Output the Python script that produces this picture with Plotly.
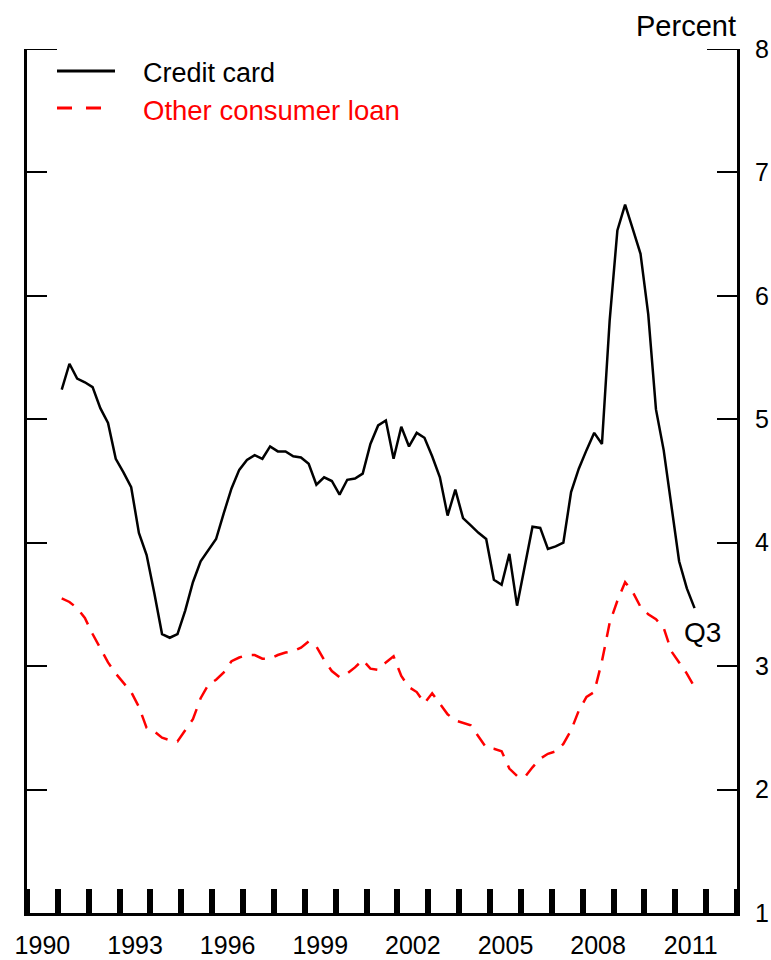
import plotly.graph_objects as go

# Quarterly data, 1991:Q1 - 2011:Q3
years = list(range(1991, 2012))
quarters = [(y, q) for y in years for q in (1, 2, 3, 4)][:83]

credit_card = [
    5.24, 5.45, 5.33, 5.30,
    5.26, 5.09, 4.97, 4.68,
    4.57, 4.45, 4.08, 3.90,
    3.59, 3.26, 3.23, 3.26,
    3.45, 3.68, 3.85, 3.94,
    4.03, 4.24, 4.44, 4.59,
    4.67, 4.71, 4.68, 4.78,
    4.74, 4.74, 4.70, 4.69,
    4.64, 4.47, 4.53, 4.50,
    4.39, 4.51, 4.52, 4.56,
    4.80, 4.95, 4.99, 4.68,
    4.94, 4.78, 4.89, 4.85,
    4.70, 4.53, 4.22, 4.43,
    4.20, 4.14, 4.08, 4.03,
    3.70, 3.66, 3.91, 3.49,
    3.80, 4.13, 4.12, 3.95,
    3.97, 4.00, 4.41, 4.60,
    4.75, 4.89, 4.80, 5.80,
    6.53, 6.74, 6.54, 6.34,
    5.85, 5.08, 4.75, 4.32,
    3.85, 3.63, 3.47,
]

other_consumer = [
    3.55, 3.52, 3.47, 3.39,
    3.26, 3.15, 3.03, 2.94,
    2.86, 2.79, 2.67, 2.50,
    2.47, 2.42, 2.40, 2.39,
    2.48, 2.57, 2.74, 2.85,
    2.89, 2.95, 3.04, 3.07,
    3.09, 3.09, 3.06, 3.06,
    3.09, 3.11, 3.12, 3.15,
    3.20, 3.16, 3.05, 2.96,
    2.91, 2.94, 2.99, 3.05,
    2.98, 2.97, 3.03, 3.08,
    2.92, 2.83, 2.79, 2.70,
    2.78, 2.69, 2.61, 2.56,
    2.54, 2.52, 2.43, 2.34,
    2.33, 2.31, 2.17, 2.11,
    2.10, 2.18, 2.25, 2.29,
    2.31, 2.37, 2.48, 2.64,
    2.75, 2.79, 3.04, 3.35,
    3.53, 3.68, 3.60, 3.48,
    3.42, 3.38, 3.31, 3.12,
    3.03, 2.94, 2.83,
]

tick_years = list(range(1990, 2014))
label_years = [1990, 1993, 1996, 1999, 2002, 2005, 2008, 2011]
y_ticks = [1, 2, 3, 4, 5, 6, 7, 8]

# x position of each quarter: middle of the quarter
x_dates = [y + (q - 0.5) / 4 for (y, q) in quarters]

FONT = "Liberation Sans, Arial, sans-serif"
FS = 25

fig = go.Figure()
fig.add_trace(go.Scatter(
    x=x_dates, y=credit_card, mode="lines", name="Credit card",
    line=dict(color="black", width=2.5), showlegend=False, hoverinfo="skip",
))
fig.add_trace(go.Scatter(
    x=x_dates, y=other_consumer, mode="lines", name="Other consumer loan",
    line=dict(color="#ff0000", width=2.5, dash="14px,10px"), showlegend=False,
    hoverinfo="skip",
))

fig.update_layout(
    width=771, height=960,
    margin=dict(l=27, r=34, t=49, b=47, autoexpand=False),
    paper_bgcolor="white", plot_bgcolor="white",
    font=dict(family=FONT, size=FS, color="black"),
    hovermode=False,
    xaxis=dict(
        range=[1990, 2013],
        automargin=False,
        tickmode="array",
        tickvals=[y + 0.5 for y in label_years],
        ticktext=[str(y) for y in label_years],
        ticks="",
        showgrid=False, zeroline=False,
        showline=True, linecolor="black", linewidth=3,
        tickfont=dict(size=FS),
        ticklabelstandoff=8,
        minor=dict(
            tickmode="array", tickvals=tick_years,
            ticks="inside", ticklen=24, tickwidth=6, tickcolor="black",
            showgrid=False,
        ),
    ),
    yaxis=dict(
        range=[1, 8],
        automargin=False,
        side="right",
        tickmode="array", tickvals=y_ticks,
        ticktext=[str(v) for v in y_ticks],
        ticks="inside", ticklen=20, tickwidth=2, tickcolor="black",
        showline=True, linecolor="black", linewidth=3, mirror="ticks",
        showgrid=False, zeroline=False,
        tickfont=dict(size=FS),
        ticklabelstandoff=10,
    ),
)

# longer top ticks at 8
fig.add_shape(type="line", xref="paper", yref="y", x0=0, x1=30 / 710, y0=8, y1=8,
              line=dict(color="black", width=2))
fig.add_shape(type="line", xref="paper", yref="y", x0=1 - 30 / 710, x1=1, y0=8, y1=8,
              line=dict(color="black", width=2))

# legend (manual)
fig.add_shape(type="line", xref="paper", yref="paper", x0=30 / 710, x1=88 / 710,
              y0=(913 - 71) / 864, y1=(913 - 71) / 864,
              line=dict(color="black", width=3))
fig.add_shape(type="line", xref="paper", yref="paper", x0=30 / 710, x1=88 / 710,
              y0=(913 - 108) / 864, y1=(913 - 108) / 864,
              line=dict(color="#ff0000", width=3, dash="15px,14px"))
fig.add_annotation(xref="paper", yref="paper", x=114 / 710, y=(913 - 73) / 864,
                   text="Credit card", showarrow=False, xanchor="left", yanchor="middle",
                   font=dict(size=27, color="black"))
fig.add_annotation(xref="paper", yref="paper", x=114 / 710, y=(913 - 110) / 864,
                   text="Other consumer loan", showarrow=False, xanchor="left", yanchor="middle",
                   font=dict(size=27.5, color="#ff0000"))

# unit label and last-quarter marker
fig.add_annotation(xref="paper", yref="paper", x=1 + 1 / 710, y=(913 - 26) / 864,
                   text="Percent", showarrow=False, xanchor="right", yanchor="middle",
                   font=dict(size=29, color="black"))
fig.add_annotation(xref="x", yref="y", x=2011.87, y=3.27,
                   text="Q3", showarrow=False, xanchor="center", yanchor="middle",
                   font=dict(size=28, color="black"))

fig.write_html("out.html", config={"displayModeBar": False},
               post_script="document.body.style.margin='0px';")
